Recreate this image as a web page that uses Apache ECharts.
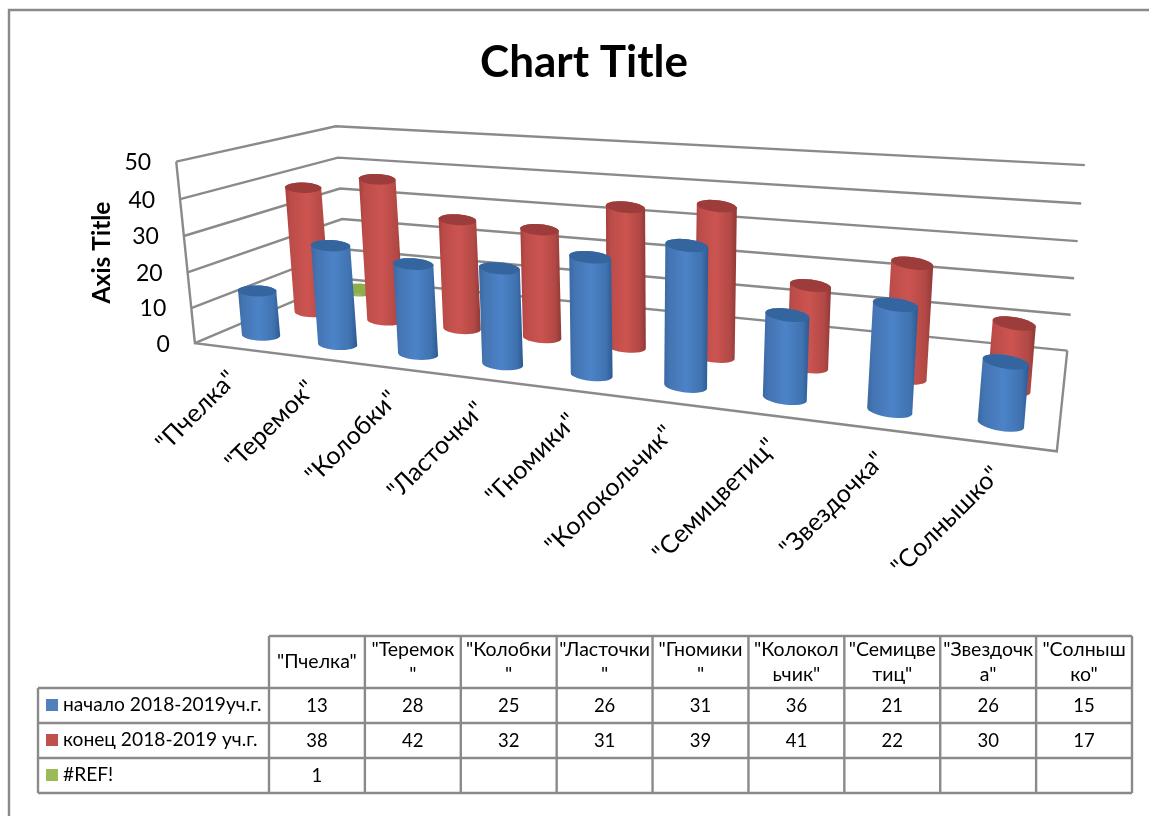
<!DOCTYPE html>
<html><head><meta charset="utf-8">
<style>html,body{margin:0;padding:0;background:#fff}#c{width:1149px;height:816px}</style>
<script src="https://cdn.jsdelivr.net/npm/echarts@6/dist/echarts.min.js"></script>
</head><body><div id="c"></div>
<script>
const categories = ['"Пчелка"','"Теремок"','"Колобки"','"Ласточки"','"Гномики"','"Колокольчик"','"Семицветиц"','"Звездочка"','"Солнышко"'];
const tableHeaders = ['"Пчелка"','"Теремок\n"','"Колобки\n"','"Ласточки\n"','"Гномики\n"','"Колокол\nьчик"','"Семицве\nтиц"','"Звездочк\nа"','"Солныш\nко"'];
const seriesNames = ['начало 2018-2019уч.г.','конец 2018-2019 уч.г.','#REF!'];
const startValues = [13,28,25,26,31,36,21,26,15];
const endValues = [38,42,32,31,39,41,22,30,17];
const refValues = [1,null,null,null,null,null,null,null,null];
const yTicks = [0,10,20,30,40,50];

const FONT = 'Lato';
const GRAY = '#8a8a8a';

// Perspective of the 3D box: known screen corners (u along categories, v depth, h height)
const corners = [
  [0,0,0,194,343],[1,0,0,1057,451],[1,1,0,1067,351],[0,1,0,347,279],
  [0,0,1,177,162],[0,1,1,335,126],[1,1,1,1085,165]
];
function solveProjection(pts){
  const A=[],b=[];
  pts.forEach(([X,Y,Z,x,y])=>{
    A.push([X,Y,Z,1,0,0,0,0,-x*X,-x*Y,-x*Z]);b.push(x);
    A.push([0,0,0,0,X,Y,Z,1,-y*X,-y*Y,-y*Z]);b.push(y);
  });
  const n=11,M=[];
  for(let i=0;i<n;i++){M.push(new Array(n+1).fill(0));
    for(let j=0;j<n;j++)for(let k=0;k<A.length;k++)M[i][j]+=A[k][i]*A[k][j];
    for(let k=0;k<A.length;k++)M[i][n]+=A[k][i]*b[k];}
  for(let i=0;i<n;i++){let p=i;for(let r=i+1;r<n;r++)if(Math.abs(M[r][i])>Math.abs(M[p][i]))p=r;
    [M[i],M[p]]=[M[p],M[i]];
    for(let r=0;r<n;r++){if(r===i)continue;const f=M[r][i]/M[i][i];for(let c=i;c<=n;c++)M[r][c]-=f*M[i][c];}}
  return M.map((row,i)=>row[n]/row[i]);
}
const P = solveProjection(corners);
function project(u,v,h){
  const w=P[8]*u+P[9]*v+P[10]*h+1;
  return [(P[0]*u+P[1]*v+P[2]*h+P[3])/w,(P[4]*u+P[5]*v+P[6]*h+P[7])/w];
}
function fracs(api,params,cat,val){
  const c=api.coord([cat,val]),g=params.coordSys;
  return {u:(c[0]-g.x)/g.width,h:(g.y+g.height-c[1])/g.height};
}
function ellipsePts(c,rx,ry,theta,t0,t1,n){
  const out=[],ct=Math.cos(theta),st=Math.sin(theta);
  for(let i=0;i<=n;i++){const t=t0+(t1-t0)*i/n;
    const a=rx*Math.cos(t),b=ry*Math.sin(t);
    out.push([c[0]+a*ct-b*st,c[1]+a*st+b*ct]);}
  return out;
}
function grad(stops){return {type:'linear',x:0,y:0,x2:1,y2:0,colorStops:stops.map((c,i)=>({offset:c[0],color:c[1]}))};}
const looks = [
  {v:1/6,body:[[0,'#3A69A3'],[.12,'#4474B2'],[.5,'#4C83C8'],[.85,'#3F72AF'],[1,'#2C5A92']],cap:'#34659F'},
  {v:1/2,body:[[0,'#A53F3C'],[.12,'#BC4C49'],[.5,'#CC5450'],[.85,'#B14845'],[1,'#8F3836']],cap:'#9C3D3B'},
  {v:5/6,body:[[0,'#7F9C45'],[.5,'#9BBB59'],[1,'#6F8A3A']],cap:'#8EAD4B'}
];
function cylinder(look){
  return function(params,api){
    const f=fracs(api,params,api.value(0),api.value(1));
    const base=project(f.u,look.v,0),top=project(f.u,look.v,f.h*0.985);
    const up=project(f.u,look.v,1),scale=Math.hypot(up[0]-base[0],up[1]-base[1])/181;
    const rx=19.4*scale,ry=5.6*scale,theta=(1+f.u*9)*Math.PI/180;
    const pts=ellipsePts(top,rx,ry,theta,Math.PI,2*Math.PI,16)
      .concat(ellipsePts(base,rx,ry,theta,0,Math.PI,16));
    return {type:'group',children:[
      {type:'polygon',shape:{points:pts},style:{fill:grad(look.body)}},
      {type:'polygon',shape:{points:ellipsePts(top,rx,ry,theta,0,2*Math.PI,32)},style:{fill:look.cap}}
    ]};
  };
}
function toData(arr){const d=[];arr.forEach((v,i)=>{if(v!=null)d.push([i,v]);});return d;}

function renderWall(params,api){
  const f=fracs(api,params,0,api.value(1)),h=f.h;
  const kids=[{type:'polyline',shape:{points:[project(0,0,h),project(0,1,h),project(1,1,h)]},
    style:{stroke:GRAY,lineWidth:2.4,fill:null}}];
  const p=project(0,0,h);
  kids.push({type:'text',style:{x:p[0]-25,y:p[1]+1,text:String(api.value(1)),align:'right',verticalAlign:'middle',
    font:'23px '+FONT,fill:'#000'}});
  if(api.value(1)===0){
    kids.push({type:'polyline',shape:{points:[project(0,0,1),project(0,0,0),project(1,0,0),project(1,1,0)]},
      style:{stroke:GRAY,lineWidth:2.4,fill:null}});
  }
  return {type:'group',children:kids};
}
function renderCatLabel(params,api){
  const i=api.value(0),f=fracs(api,params,i,0),p=project(f.u,0,0);
  return {type:'text',rotation:Math.PI/4,x:p[0],y:p[1]+27,
    style:{x:0,y:0,text:categories[i],align:'right',verticalAlign:'middle',font:'25px '+FONT,fill:'#000'}};
}

// Data table
const tbl={left:38,col0:269,right:1132,top:636,rows:[688,723,758,793]};
const colW=(tbl.right-tbl.col0)/categories.length;
const tableEls=[];
function hline(x1,x2,y){tableEls.push({type:'line',shape:{x1,y1:y,x2,y2:y},style:{stroke:GRAY,lineWidth:2.4}});}
function vline(x,y1,y2){tableEls.push({type:'line',shape:{x1:x,y1,x2:x,y2},style:{stroke:GRAY,lineWidth:2.4}});}
hline(tbl.col0,tbl.right,tbl.top);
tbl.rows.forEach(y=>hline(tbl.left,tbl.right,y));
vline(tbl.left,tbl.rows[0],tbl.rows[3]);
for(let i=0;i<=categories.length;i++)vline(tbl.col0+i*colW,tbl.top,tbl.rows[3]);
tableHeaders.forEach((t,i)=>{
  const lines=t.split('\n'),cx=tbl.col0+(i+.5)*colW;
  if(lines.length===1)tableEls.push({type:'text',style:{x:cx,y:662,text:t,align:'center',verticalAlign:'middle',font:'19.5px '+FONT,fill:'#000'}});
  else lines.forEach((l,k)=>tableEls.push({type:'text',style:{x:cx,y:650+k*25,text:l,align:'center',verticalAlign:'middle',font:'19.5px '+FONT,fill:'#000'}}));
});
[startValues,endValues,refValues].forEach((vals,r)=>{
  const cy=tbl.rows[r]+17,col=['#4F81BD','#C0504D','#9BBB59'][r];
  tableEls.push({type:'rect',shape:{x:46,y:cy-6,width:12,height:12},style:{fill:col}});
  tableEls.push({type:'text',style:{x:63,y:cy,text:seriesNames[r],align:'left',verticalAlign:'middle',font:'19.2px '+FONT,fill:'#000'}});
  vals.forEach((v,i)=>{if(v!=null)tableEls.push({type:'text',style:{x:tbl.col0+(i+.5)*colW,y:cy+1,text:String(v),align:'center',verticalAlign:'middle',font:'18.5px '+FONT,fill:'#000'}});});
});
// Outer chart border
tableEls.push({type:'polyline',shape:{points:[[9,816],[9,10],[1149,10]]},style:{stroke:GRAY,lineWidth:2.4,fill:null}});

const chart=echarts.init(document.getElementById('c'),null,{renderer:'canvas'});
chart.setOption({
  animation:false,
  backgroundColor:'#fff',
  title:{text:'Chart Title',left:579,top:36,textAlign:'center',textStyle:{fontFamily:FONT,fontWeight:'bold',fontSize:44,color:'#000'}},
  grid:{left:178,right:91,top:162,bottom:473},
  xAxis:{type:'category',data:categories,axisLine:{show:false},axisTick:{show:false},axisLabel:{show:false},splitLine:{show:false}},
  yAxis:{type:'value',min:0,max:50,interval:10,name:'Axis Title',nameLocation:'middle',nameGap:63,
    nameTextStyle:{fontFamily:FONT,fontWeight:'bold',fontSize:24.5,color:'#000'},
    axisLine:{show:false},axisTick:{show:false},axisLabel:{show:false},splitLine:{show:false}},
  graphic:{elements:tableEls},
  series:[
    {type:'custom',name:'walls',z:1,clip:false,silent:true,data:yTicks.map(t=>[0,t]),renderItem:renderWall},
    {type:'custom',name:'labels',z:1,clip:false,silent:true,data:categories.map((c,i)=>[i,0]),renderItem:renderCatLabel},
    {type:'custom',name:seriesNames[0],z:5,clip:false,data:toData(startValues),renderItem:cylinder(looks[0])},
    {type:'custom',name:seriesNames[1],z:4,clip:false,data:toData(endValues),renderItem:cylinder(looks[1])},
    {type:'custom',name:seriesNames[2],z:3,clip:false,data:toData(refValues),renderItem:cylinder(looks[2])}
  ]
});
</script></body></html>
